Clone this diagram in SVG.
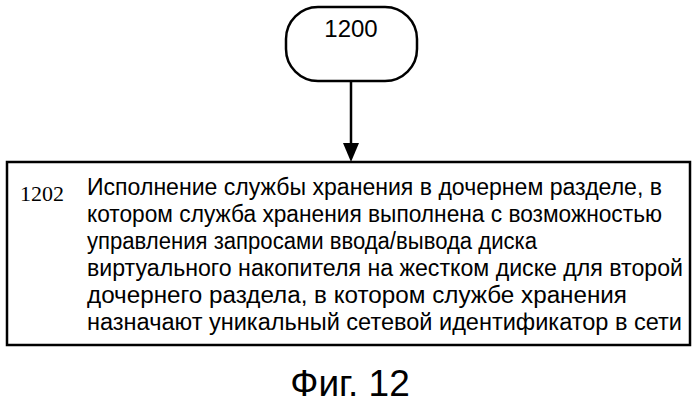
<svg xmlns="http://www.w3.org/2000/svg" width="699" height="405" viewBox="0 0 699 405">
<style>
.s{fill:#fff;stroke:#000;stroke-width:2.5}
.t{font-family:"Liberation Sans",Arial,sans-serif;font-size:23px;fill:#000}
.n{font-family:"Liberation Serif","Times New Roman",serif;font-size:22px;fill:#000}
</style>
<g id="n1200"><rect class="s" x="286" y="7" width="131" height="74" rx="32" ry="32"/><text class="t" x="351" y="37" text-anchor="middle" style="font-size:24px">1200</text></g>
<g id="connectors"><line x1="351" y1="81" x2="351" y2="150" stroke="#000" stroke-width="2.5"/><path d="M343,143L351,162L359,143z"/></g>
<g id="n1202"><rect class="s" x="7" y="162" width="683" height="183"/>
<text class="n" x="20" y="201">1202</text>
<text class="t" x="87" y="195" textLength="575" lengthAdjust="spacingAndGlyphs">Исполнение службы хранения в дочернем разделе, в</text>
<text class="t" x="87" y="222" textLength="575" lengthAdjust="spacingAndGlyphs">котором служба хранения выполнена с возможностью</text>
<text class="t" x="87" y="249" textLength="450" lengthAdjust="spacingAndGlyphs">управления запросами ввода/вывода диска</text>
<text class="t" x="87" y="276" textLength="596" lengthAdjust="spacingAndGlyphs">виртуального накопителя на жестком диске для второй</text>
<text class="t" x="87" y="303" textLength="540" lengthAdjust="spacingAndGlyphs">дочернего раздела, в котором службе хранения</text>
<text class="t" x="87" y="330" textLength="595" lengthAdjust="spacingAndGlyphs">назначают уникальный сетевой идентификатор в сети</text>
</g>
<text class="t" x="350" y="396" text-anchor="middle" style="font-size:37px">Фиг. 12</text>
</svg>
